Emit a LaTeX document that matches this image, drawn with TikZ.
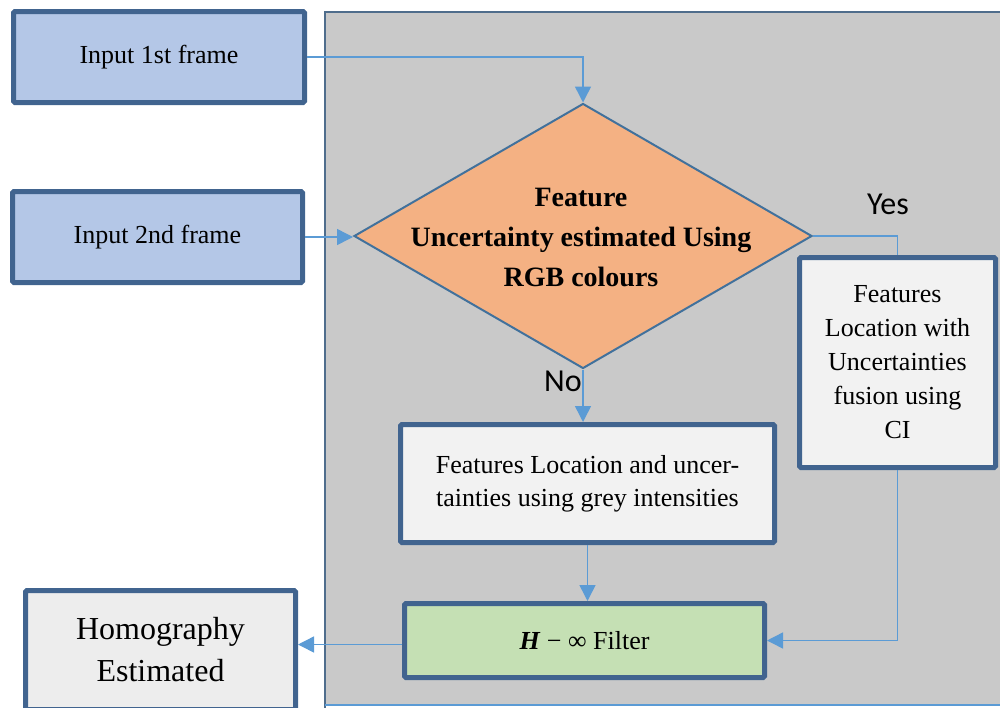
\documentclass[tikz,border=0pt]{standalone}
\usepackage{fontspec}
\setmainfont{Liberation Serif}
\newfontfamily\yesnofont{Carlito}
\usetikzlibrary{shapes.geometric,arrows.meta}
\definecolor{bordc}{HTML}{41648F}
\definecolor{panelc}{HTML}{C9C9C9}
\definecolor{panelb}{HTML}{4F6D8C}
\definecolor{connc}{HTML}{5B9BD5}
\definecolor{inputc}{HTML}{B4C7E7}
\definecolor{diac}{HTML}{F4B183}
\definecolor{diab}{HTML}{41719C}
\definecolor{lightc}{HTML}{F2F2F2}
\definecolor{homoc}{HTML}{EDEDED}
\definecolor{filtc}{HTML}{C5E0B4}
\begin{document}
\begin{tikzpicture}[x=1pt,y=-1pt,
  box/.style={draw=bordc, line width=5pt, rounded corners=1.5pt, align=center, inner sep=0pt,
    font=\fontsize{26}{34}\selectfont},
  dia/.style={shape=diamond, draw=diab, line width=2pt, fill=diac, inner sep=0pt,
    minimum width=458pt, minimum height=265pt},
  conn/.style={draw=connc, line width=1.5pt},
  arr/.style={conn, -{Triangle[length=16pt,width=16pt]}},
  lab/.style={font=\yesnofont\fontsize{32}{36}\selectfont, inner sep=0pt}
]
\useasboundingbox (0,0) rectangle (1000,707);
\clip (0,0) rectangle (1000,707);
% panel
\fill[panelc] (325,12) rectangle (1010,705);
\draw[panelb, line width=2pt] (1010,12) -- (325,12) -- (325,712);
\draw[connc, line width=1.2pt] (325,705) -- (1010,705);

% nodes
\node[box, fill=inputc, minimum width=291pt, minimum height=91pt] (in1) at (159,57) {Input 1st frame};
\node[box, fill=inputc, minimum width=290pt, minimum height=91pt] (in2) at (157.5,237) {Input 2nd frame};
\node[dia] (d) at (583,236) {};
\node[font=\bfseries\fontsize{28}{40}\selectfont, align=center, inner sep=0pt] (dt) at (581,237)
  {Feature\\Uncertainty estimated Using\\RGB colours};
\node[box, fill=lightc, minimum width=196pt, minimum height=210pt] (rb) at (897.5,362.5)
  {Features\\Location with\\Uncertainties\\fusion using\\CI};
\node[box, fill=lightc, minimum width=374pt, minimum height=118pt,
  font=\fontsize{26}{33}\selectfont] (mb) at (587.5,483.5)
  {Features Location and uncer-\\tainties using grey intensities};
\node[box, fill=filtc, minimum width=360pt, minimum height=74pt] (fb) at (584.5,640.5)
  {\textbf{\textit{H}} − ∞ Filter};
\node[box, fill=homoc, minimum width=270pt, minimum height=119pt,
  font=\fontsize{32}{42}\selectfont] (hb) at (160.5,650)
  {Homography\\Estimated};

\node[lab] (yes) at (888,204) {Yes};
\node[lab] (no) at (563,381) {No};

% connectors
\draw[arr] (in1.east) -- (in1.east -| d.north) -- (d.north);
\draw[arr] (in2.east) -- (in2.east -| d.west);
\draw[conn] (d.east) -- (d.east -| rb.north) -- (rb.north);
\draw[arr] (d.south) -- (d.south |- mb.north);
\draw[arr] (mb.south) -- (mb.south |- fb.north);
\draw[arr] (rb.south) -- (rb.south |- fb.east) -- (fb.east);
\draw[arr] ([yshift=-4pt]fb.west) -- ([yshift=-4pt]fb.west -| hb.east);
\end{tikzpicture}
\end{document}
